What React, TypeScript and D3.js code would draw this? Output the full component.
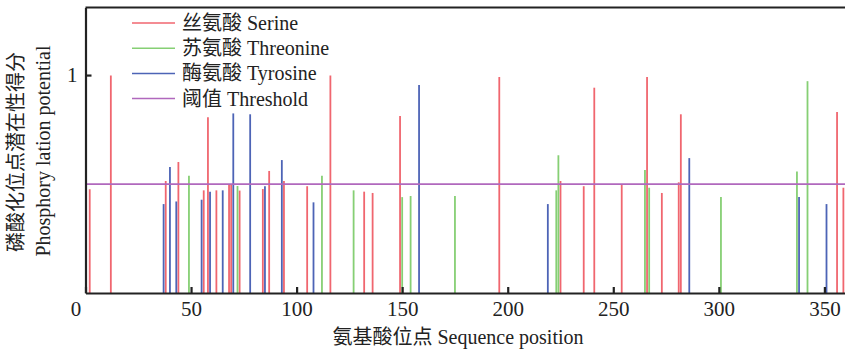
import React, { useEffect, useRef } from "react";
import * as d3 from "d3";

// amino-acid positions and phosphorylation scores
const serinePos = [2, 12, 38, 44, 56, 58, 62, 68, 69, 73, 84, 87, 94, 105, 116, 132, 136, 149, 196, 225, 236, 241, 254, 266, 273, 281, 282, 356, 359];
const serineVal = [0.476, 0.998, 0.514, 0.601, 0.471, 0.806, 0.471, 0.497, 0.497, 0.47, 0.477, 0.56, 0.514, 0.49, 0.998, 0.465, 0.459, 0.812, 0.991, 0.514, 0.49, 0.942, 0.497, 0.991, 0.459, 0.508, 0.82, 0.83, 0.483];

const threoninePos = [49, 72, 112, 127, 150, 154, 175, 223, 224, 265, 267, 301, 337, 342];
const threonineVal = [0.538, 0.491, 0.538, 0.471, 0.44, 0.445, 0.445, 0.471, 0.632, 0.564, 0.483, 0.44, 0.558, 0.972];

const tyrosinePos = [37, 40, 43, 55, 59, 65, 70, 78, 85, 93, 108, 158, 219, 286, 338, 351];
const tyrosineVal = [0.408, 0.578, 0.42, 0.428, 0.465, 0.471, 0.824, 0.82, 0.49, 0.61, 0.416, 0.954, 0.408, 0.619, 0.44, 0.408];

const threshold = 0.5;

const xTicks = [0, 50, 100, 150, 200, 250, 300, 350];
const yTicks = [1];

const legendLabels = ["丝氨酸 Serine", "苏氨酸 Threonine", "酶氨酸 Tyrosine", "阈值 Threshold"];
const colors = ["#f0666f", "#86cf74", "#4d64b6", "#b068bd"];

const FONT = "'Liberation Serif', 'Times New Roman', 'Noto Sans CJK SC', serif";

const App: React.FC = () => {
  const svgRef = useRef<SVGSVGElement | null>(null);

  useEffect(() => {
    if (!svgRef.current) return;
    const width = 845;
    const height = 351;
    const left = 85.5;
    const right = 845.5;
    const top = 7.5;
    const bottom = 293;

    const svg = d3.select(svgRef.current);
    svg.selectAll("*").remove();

    const x = d3.scaleLinear().domain([0, 360]).range([left, right]);
    const y = d3.scaleLinear().domain([0, 1.31]).range([bottom, top]);

    svg.attr("width", width).attr("height", height);

    // bars per residue type
    const series = [
      { pos: serinePos, val: serineVal, color: colors[0] },
      { pos: threoninePos, val: threonineVal, color: colors[1] },
      { pos: tyrosinePos, val: tyrosineVal, color: colors[2] },
    ];
    series.forEach((s) => {
      svg
        .append("g")
        .selectAll("line")
        .data(s.pos)
        .join("line")
        .attr("x1", (d) => x(d))
        .attr("x2", (d) => x(d))
        .attr("y1", y(0))
        .attr("y2", (_d, i) => y(s.val[i]))
        .attr("stroke", s.color)
        .attr("stroke-width", 1.8);
    });

    // threshold line
    svg
      .append("line")
      .attr("x1", x(0))
      .attr("x2", x(360))
      .attr("y1", y(threshold))
      .attr("y2", y(threshold))
      .attr("stroke", colors[3])
      .attr("stroke-width", 1.8);

    // x axis, ticks pointing inward
    svg
      .append("g")
      .attr("transform", `translate(0,${bottom})`)
      .call(
        d3
          .axisBottom(x)
          .tickValues(xTicks)
          .tickSizeInner(-6)
          .tickSizeOuter(0)
          .tickPadding(8.5)
          .tickFormat((d) => String(d)),
      )
      .call((g) => g.select(".domain").attr("stroke", "#222").attr("stroke-width", 2.2))
      .call((g) => g.selectAll(".tick line").attr("stroke", "#222").attr("stroke-width", 2.2))
      .call((g) =>
        g
          .selectAll(".tick text")
          .attr("fill", "#222")
          .attr("font-family", FONT)
          .attr("font-size", "21px")
          .attr("dx", (d: any) => (d === 0 ? -10 : 0)),
      );

    // y axis
    svg
      .append("g")
      .attr("transform", `translate(${left},0)`)
      .call(
        d3
          .axisLeft(y)
          .tickValues(yTicks)
          .tickSizeInner(-6)
          .tickSizeOuter(0)
          .tickPadding(8)
          .tickFormat((d) => String(d)),
      )
      .call((g) => g.select(".domain").attr("stroke", "#222").attr("stroke-width", 2.2))
      .call((g) => g.selectAll(".tick line").attr("stroke", "#222").attr("stroke-width", 2.2))
      .call((g) =>
        g.selectAll(".tick text").attr("fill", "#222").attr("font-family", FONT).attr("font-size", "21px"),
      );

    // top frame
    svg
      .append("line")
      .attr("x1", left)
      .attr("x2", right)
      .attr("y1", top)
      .attr("y2", top)
      .attr("stroke", "#222")
      .attr("stroke-width", 2.2);

    // legend
    const legend = svg.append("g");
    legendLabels.forEach((label, i) => {
      const cy = 23 + i * 25.2;
      legend
        .append("line")
        .attr("x1", 132)
        .attr("x2", 175)
        .attr("y1", cy)
        .attr("y2", cy)
        .attr("stroke", colors[i])
        .attr("stroke-width", 1.5);
      legend
        .append("text")
        .attr("x", 182)
        .attr("y", cy + 7)
        .attr("font-family", FONT)
        .attr("font-size", "20px")
        .attr("fill", "#222")
        .text(label);
    });

    // axis titles
    svg
      .append("text")
      .attr("x", 458)
      .attr("y", 344)
      .attr("text-anchor", "middle")
      .attr("font-family", FONT)
      .attr("font-size", "20px")
      .attr("fill", "#222")
      .text("氨基酸位点 Sequence position");

    svg
      .append("text")
      .attr("transform", "translate(23,152) rotate(-90)")
      .attr("text-anchor", "middle")
      .attr("font-family", FONT)
      .attr("font-size", "20px")
      .attr("fill", "#222")
      .text("磷酸化位点潜在性得分");

    svg
      .append("text")
      .attr("transform", "translate(50,151) rotate(-90)")
      .attr("text-anchor", "middle")
      .attr("font-family", FONT)
      .attr("font-size", "20px")
      .attr("fill", "#222")
      .text("Phosphory lation potential");
  }, []);

  return (
    <div style={{ position: "absolute", left: 0, top: 0, background: "#fff" }}>
      <svg ref={svgRef} style={{ display: "block" }}></svg>
    </div>
  );
};

export default App;
